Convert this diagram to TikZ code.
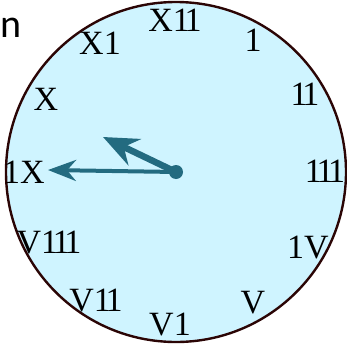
\documentclass[tikz,border=0pt]{standalone}
\usepackage{fontspec}
\setmainfont{Liberation Serif}
\newfontfamily\labelsans{Carlito}
\usetikzlibrary{arrows.meta}
\definecolor{faceblue}{HTML}{CFF4FF}
\definecolor{rimbrown}{HTML}{2B0505}
\definecolor{handteal}{HTML}{236B80}
\newcommand\tightone{\kern-0.16em}
\tikzset{
  numeral/.style={inner sep=0pt, font=\fontsize{34}{34}\selectfont, text=black},
  hand/.style={draw=handteal, line cap=butt},
}
\begin{document}
\begin{tikzpicture}[x=1pt,y=-1pt]
\useasboundingbox (0,0) rectangle (347,348);
\node[anchor=base west, inner sep=0pt, font=\labelsans\fontsize{40}{40}\selectfont] (word) at (0,37) {n};
\draw[fill=faceblue, draw=rimbrown, line width=2.4pt] (176,172) circle[radius=170];
\node[numeral] (n12) at (175,20) {X1\tightone 1};
\node[numeral] (n1) at (253,40) {1};
\node[numeral] (n2) at (305,94) {1\tightone 1};
\node[numeral] (n3) at (325,171) {1\tightone 1\tightone 1};
\node[numeral] (n4) at (308,248) {1V};
\node[numeral] (n5) at (253,303) {V};
\node[numeral] (n6) at (170,325) {V1};
\node[numeral] (n7) at (96,301) {V1\tightone 1};
\node[numeral] (n8) at (49,243) {V1\tightone 1\tightone 1};
\node[numeral] (n9) at (24,172) {1X};
\node[numeral] (n10) at (46,99) {X};
\node[numeral] (n11) at (100,43) {X1};
\node[circle, fill=handteal, inner sep=0pt, minimum size=14pt] (hub) at (176,172) {};
\coordinate (mintip) at (48,170);
\coordinate (hourtip) at (103,137);
\draw[hand, line width=4pt, -{Stealth[length=28pt, width=21pt, inset=9pt]}] (hub.center) -- (mintip);
\draw[hand, line width=6.5pt, -{Stealth[length=35pt, width=29pt, inset=12pt]}] (hub.center) -- (hourtip);
\end{tikzpicture}
\end{document}
